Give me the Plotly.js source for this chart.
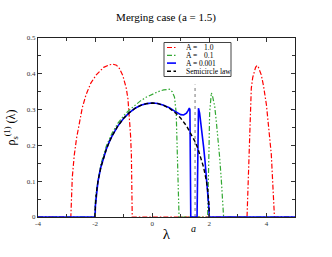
<!DOCTYPE html>
<html>
<head>
<meta charset="utf-8">
<script src="https://cdn.plot.ly/plotly-3.0.1.min.js"></script>
<style>html,body{margin:0;padding:0;background:#fff;}#chart{width:332px;height:257px;}</style>
</head>
<body>
<div id="chart"></div>
<script>
// ---- data ----
const redX = [-4,-2.85,-2.8,-2.73,-2.65,-2.55,-2.45,-2.32,-2.15,-1.96,-1.7,-1.5,-1.38,-1.25,-1.15,-1.03,-0.91,-0.85,-0.8,-0.76,-0.73,-0.70,
              3.32,3.35,3.38,3.41,3.44,3.47,3.52,3.57,3.62,3.67,3.72,3.82,3.9,4.0,4.06,4.12,4.17,4.2,4.24,4.26,4.28,5];
const redY = [0,0,0.11,0.173,0.22,0.266,0.305,0.341,0.374,0.397,0.418,0.425,0.427,0.424,0.415,0.395,0.36,0.33,0.285,0.23,0.173,0,
              0,0.08,0.17,0.266,0.32,0.36,0.39,0.406,0.418,0.423,0.418,0.397,0.365,0.313,0.27,0.22,0.175,0.127,0.07,0.034,0,0];

const greenX = [-4,-2.02,-1.98,-1.9,-1.8,-1.6,-1.4,-1.2,-1.0,-0.8,-0.6,-0.4,-0.2,0,0.2,0.4,0.6,0.7,0.78,0.84,0.88,0.92,0.94,
                1.94,1.96,1.99,2.01,2.04,2.07,2.12,2.19,2.25,2.31,2.36,2.42,2.46,2.5,5];
const greenY = [0,0,0.06,0.105,0.147,0.2,0.235,0.262,0.283,0.299,0.313,0.325,0.335,0.343,0.35,0.355,0.357,0.35,0.335,0.29,0.18,0.05,0,
                0,0.06,0.196,0.29,0.335,0.347,0.335,0.308,0.262,0.215,0.168,0.103,0.055,0,0];

const blueX = [-4,-2,-1.99,-1.95,-1.9,-1.8,-1.7,-1.6,-1.5,-1.4,-1.2,-1.0,-0.8,-0.6,-0.4,-0.2,0,0.2,0.4,0.6,0.8,0.9,1.0,1.1,1.2,1.26,1.3,1.32,1.34,1.35,
               1.57,1.58,1.6,1.62,1.66,1.7,1.75,1.8,1.85,1.9,1.95,1.98,2.0,5];
const blueY = [0,0,0.0318,0.0707,0.0994,0.1388,0.1677,0.191,0.2105,0.2273,0.2546,0.2757,0.2917,0.3037,0.3119,0.3167,0.3183,0.317,0.312,0.305,0.295,0.29,0.286,0.285,0.29,0.298,0.304,0.30,0.15,0,
               0,0.12,0.27,0.304,0.29,0.265,0.232,0.195,0.155,0.112,0.065,0.03,0,0];

const semiX = [-2,-1.99,-1.95,-1.9,-1.8,-1.7,-1.6,-1.5,-1.4,-1.2,-1.0,-0.8,-0.6,-0.4,-0.2,0,0.2,0.4,0.6,0.8,1.0,1.2,1.4,1.5,1.6,1.7,1.8,1.9,1.95,1.99,2];
const semiY = [0,0.0318,0.0707,0.0994,0.1388,0.1677,0.191,0.2105,0.2273,0.2546,0.2757,0.2917,0.3037,0.3119,0.3167,0.3183,0.3167,0.3119,0.3037,0.2917,0.2757,0.2546,0.2273,0.2105,0.191,0.1677,0.1388,0.0994,0.0707,0.0318,0];

const aLineX = [1.5, 1.5];
const aLineY = [0, 0.37];

const xTickVals = [-4,-2,0,2,4];
const xTickText = ["-4","-2","0","2","4"];
const yTickVals = [0,0.1,0.2,0.3,0.4,0.5];
const yTickText = ["0","0.1","0.2","0.3","0.4","0.5"];

const legendNames = ["A =", "A =", "A = 0.001", "Semicircle law"];
const legendValues = ["1.0", "0.1", "", ""];

// ---- styles ----
const FONT = "Liberation Serif, Times New Roman, serif";
const colors = ["#ff0000", "#33a833", "#0000ff", "#000000"];
const dashes = ["5px,2px,1.5px,2px", "5px,2px,1.5px,2px,1.5px,2px", "solid", "4px,2.5px"];
const widths = [1.2, 1.2, 1.6, 1.4];

const traces = [
  {x: redX, y: redY, mode: "lines", line: {color: colors[0], dash: dashes[0], width: widths[0]}},
  {x: greenX, y: greenY, mode: "lines", line: {color: colors[1], dash: dashes[1], width: widths[1]}},
  {x: aLineX, y: aLineY, mode: "lines", line: {color: "#777", dash: "dot", width: 1}},
  {x: blueX, y: blueY, mode: "lines", line: {color: colors[2], dash: dashes[2], width: widths[2]}},
  {x: semiX, y: semiY, mode: "lines", line: {color: colors[3], dash: dashes[3], width: widths[3]}}
];

// plot area in pixels: x 38..295, y 38..217
const L = 38, R = 295, T = 38, B = 217;
const px = X => (X - L) / (R - L);
const py = Y => (B - Y) / (B - T);

const shapes = [
  {type: "rect", xref: "paper", yref: "paper", x0: px(164), x1: px(231), y0: py(76.5), y1: py(42.5),
   line: {color: "#444", width: 1}, fillcolor: "#fff", layer: "above"}
];
const annotations = [
  {text: "<i>a</i>", xref: "x", yref: "paper", x: 1.45, y: py(228), xanchor: "center", yanchor: "middle",
   showarrow: false, font: {family: FONT, size: 10, color: "#000"}}
];
const rowsY = [47.5, 55.3, 63.1, 71.3];
for (let i = 0; i < 4; i++) {
  shapes.push({type: "line", xref: "paper", yref: "paper", x0: px(167), x1: px(176), y0: py(rowsY[i]), y1: py(rowsY[i]),
    line: {color: colors[i], dash: dashes[i], width: widths[i]}, layer: "above"});
  annotations.push({text: legendNames[i], xref: "paper", yref: "paper", x: px(184), y: py(rowsY[i]),
    xanchor: "left", yanchor: "middle", showarrow: false, font: {family: FONT, size: 7.5, color: "#000"}});
  if (legendValues[i]) {
    annotations.push({text: legendValues[i], xref: "paper", yref: "paper", x: px(216), y: py(rowsY[i]),
      xanchor: "right", yanchor: "middle", showarrow: false, font: {family: FONT, size: 7.5, color: "#000"}});
  }
}

const layout = {
  width: 332, height: 257,
  margin: {l: L, r: 332 - R, t: T, b: 257 - B, pad: 0},
  paper_bgcolor: "#fff", plot_bgcolor: "#fff",
  showlegend: false,
  font: {family: FONT, color: "#000"},
  title: {text: "Merging case (a = 1.5)", font: {family: FONT, size: 11, color: "#000"},
          x: 0.5, xanchor: "center", xref: "container", y: 1 - 17 / 257, yanchor: "middle", yref: "container"},
  xaxis: {
    range: [-4, 5], tickmode: "array", tickvals: xTickVals, ticktext: xTickText,
    ticks: "inside", ticklen: 4, tickwidth: 1, tickcolor: "#333",
    minor: {dtick: 1, tick0: -4, ticks: "inside", ticklen: 3, tickcolor: "#333", showgrid: false},
    showline: true, linecolor: "#222", linewidth: 1, mirror: "allticks",
    showgrid: false, zeroline: false,
    tickfont: {family: FONT, size: 7, color: "#333"},
    title: {text: "λ", font: {family: FONT, size: 15, color: "#000"}, standoff: 1}
  },
  yaxis: {
    range: [0, 0.5], tickmode: "array", tickvals: yTickVals, ticktext: yTickText,
    ticks: "inside", ticklen: 4, tickwidth: 1, tickcolor: "#333",
    minor: {dtick: 0.05, tick0: 0, ticks: "inside", ticklen: 3, tickcolor: "#333", showgrid: false},
    showline: true, linecolor: "#222", linewidth: 1, mirror: "allticks",
    showgrid: false, zeroline: false,
    tickfont: {family: FONT, size: 7, color: "#333"},
    title: {text: "ρ<sub>s</sub><sup>(1)</sup> (λ)", font: {family: FONT, size: 12, color: "#000"}, standoff: 8}
  },
  shapes: shapes,
  annotations: annotations
};

Plotly.newPlot("chart", traces, layout, {staticPlot: true, displayModeBar: false});
</script>
</body>
</html>
